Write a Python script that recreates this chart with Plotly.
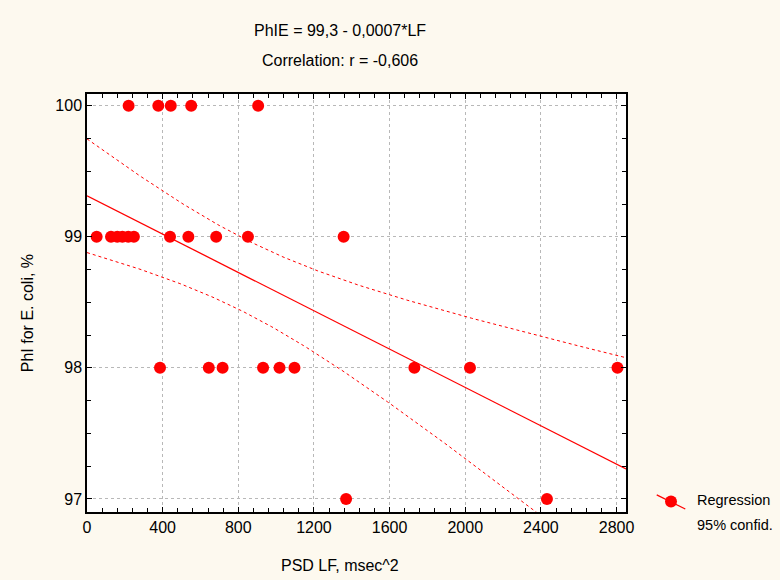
import numpy as np
import plotly.graph_objects as go

# PSD LF (msec^2) and PhI for E. coli (%)
lf_100 = [220, 377, 443, 551, 905]
lf_99 = [51, 127, 160, 187, 218, 248, 439, 536, 683, 851, 1357]
lf_98 = [386, 644, 717, 931, 1018, 1097, 1731, 2025, 2805]
lf_97 = [1370, 2432]

x_ticks = [0, 400, 800, 1200, 1600, 2000, 2400, 2800]
y_ticks = [97, 98, 99, 100]

x = np.array(lf_100 + lf_99 + lf_98 + lf_97, dtype=float)
y = np.array([100] * len(lf_100) + [99] * len(lf_99) + [98] * len(lf_98) + [97] * len(lf_97), dtype=float)

# linear regression + 95% confidence band of the mean
n = len(x)
slope, intercept = np.polyfit(x, y, 1)
resid = y - (intercept + slope * x)
s = np.sqrt(np.sum(resid ** 2) / (n - 2))
sxx = np.sum((x - x.mean()) ** 2)
t_crit = 2.0595  # t(0.975, 25)

xf = np.linspace(0, 2850, 200)
yf = intercept + slope * xf
hw = t_crit * s * np.sqrt(1 / n + (xf - x.mean()) ** 2 / sxx)

red = "#ff0000"
fig = go.Figure()

fig.add_trace(go.Scatter(x=xf, y=yf + hw, mode="lines", line=dict(color=red, width=1, dash="dot"),
                         showlegend=False, hoverinfo="skip"))
fig.add_trace(go.Scatter(x=xf, y=yf - hw, mode="lines", line=dict(color=red, width=1, dash="dot"),
                         showlegend=False, hoverinfo="skip"))
fig.add_trace(go.Scatter(x=xf, y=yf, mode="lines", line=dict(color=red, width=1.3),
                         showlegend=False, hoverinfo="skip"))
fig.add_trace(go.Scatter(x=x, y=y, mode="markers", marker=dict(color=red, size=12),
                         showlegend=False))

axis_style = dict(
    showline=True, linecolor="black", linewidth=1.5, mirror="allticks",
    ticks="inside", ticklen=5, tickcolor="black",
    showgrid=True, gridcolor="#b8b8b8", griddash="dot", gridwidth=1,
    zeroline=False, tickfont=dict(family="Liberation Sans, Arial", size=16, color="black"),
)

fig.update_xaxes(range=[0, 2850], tickvals=x_ticks,
                 minor=dict(dtick=80, tick0=0, ticks="inside", ticklen=4, tickcolor="black", showgrid=False),
                 **axis_style)
fig.update_yaxes(range=[96.9, 100.09], tickvals=y_ticks,
                 minor=dict(dtick=0.25, tick0=97, ticks="inside", ticklen=4, tickcolor="black", showgrid=False),
                 **axis_style)

font = dict(family="Liberation Sans, Arial", size=16, color="black")
legend_font = dict(family="Liberation Sans, Arial", size=14.5, color="black")

# hand-drawn legend (the real one would push the right margin): slanted line + dot + two text lines
fig.add_shape(type="line", xref="paper", yref="paper", x0=1.057, x1=1.110, y0=0.041, y1=0.007,
              line=dict(color=red, width=1.2))
fig.add_shape(type="circle", xref="paper", yref="paper", xsizemode="pixel", ysizemode="pixel",
              xanchor=1.0835, yanchor=0.025, x0=-6, x1=6, y0=-6, y1=6,
              fillcolor=red, line=dict(color=red, width=0))

fig.update_layout(
    width=780, height=580,
    margin=dict(l=87, r=154, t=94, b=68),
    paper_bgcolor="#fdf9ef", plot_bgcolor="white",
    font=font, showlegend=False,
    annotations=[
        dict(text="PhIE = 99,3 - 0,0007*LF", x=0.47, y=1.151, xref="paper", yref="paper",
             showarrow=False, xanchor="center", yanchor="middle", font=font),
        dict(text="Correlation: r = -0,606", x=0.47, y=1.081, xref="paper", yref="paper",
             showarrow=False, xanchor="center", yanchor="middle", font=font),
        dict(text="PSD LF, msec^2", x=0.469, y=-0.127, xref="paper", yref="paper",
             showarrow=False, xanchor="center", yanchor="middle", font=font),
        dict(text="PhI for E. coli, %", x=-0.111, y=0.476, xref="paper", yref="paper",
             showarrow=False, xanchor="center", yanchor="middle", textangle=-90, font=font),
        dict(text="Regression", x=1.128, y=0.029, xref="paper", yref="paper",
             showarrow=False, xanchor="left", yanchor="middle", font=legend_font),
        dict(text="95% confid.", x=1.128, y=-0.031, xref="paper", yref="paper",
             showarrow=False, xanchor="left", yanchor="middle", font=legend_font),
    ],
)

# the page body has an 8px default margin, drop it so the figure sits at (0, 0)
fig.write_html("out.html", config={"displayModeBar": False},
               post_script="document.body.style.margin='0';")
